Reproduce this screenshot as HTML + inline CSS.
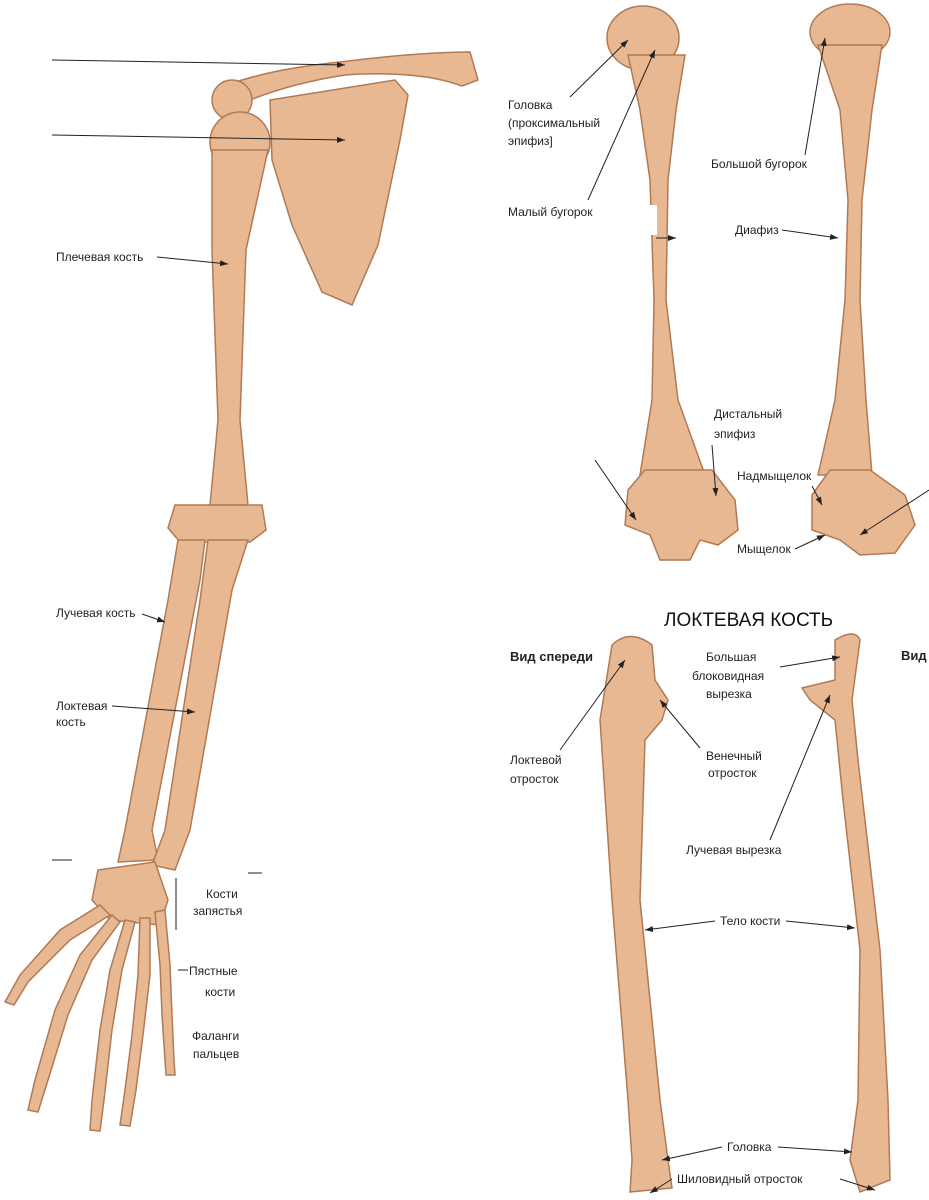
<!DOCTYPE html>
<html><head><meta charset="utf-8"><style>
html,body{margin:0;padding:0;background:#fff;}
svg{display:block;}
text{font-family:"Liberation Sans","DejaVu Sans",sans-serif;font-size:12px;fill:#222;}
.b{fill:#e8b893;stroke:#b07a55;stroke-width:1.5;}
.l{stroke:#222;stroke-width:1;fill:none;}
</style></head><body>
<svg width="929" height="1200" viewBox="0 0 929 1200" xmlns="http://www.w3.org/2000/svg">
<defs><marker id="a" markerWidth="8" markerHeight="6" refX="8" refY="3" orient="auto"><path d="M0,0 L8,3 L0,6 z" fill="#222"/></marker></defs>

<!-- LEFT ARM -->
<path class="b" d="M270,100 L395,80 L408,95 L400,140 L378,245 L352,305 L322,292 L292,225 L272,160 Z"/>
<path class="b" d="M215,90 Q260,70 340,62 Q420,52 470,52 L478,80 L462,86 Q420,70 345,75 Q280,85 232,108 Z"/>
<circle class="b" cx="232" cy="100" r="20"/>
<circle class="b" cx="240" cy="142" r="30"/>
<path class="b" d="M212,150 L268,150 L246,250 L240,420 L248,505 L210,505 L218,420 L212,250 Z"/>
<path class="b" d="M175,505 L262,505 L266,530 L250,542 L180,542 L168,528 Z"/>
<path class="b" d="M178,540 L205,540 L200,580 L152,830 L158,860 L118,862 L125,830 L168,600 Z"/>
<path class="b" d="M208,540 L248,540 L232,590 L190,830 L175,870 L152,865 L165,830 L200,600 Z"/>
<path class="b" d="M98,870 L155,862 L168,900 L160,925 L110,920 L92,900 Z"/>
<g class="b">
<path d="M100,905 L60,930 L20,975 L5,1002 L14,1005 L28,982 L70,940 L110,915 Z"/>
<path d="M112,915 L80,955 L55,1010 L35,1080 L28,1110 L38,1112 L48,1080 L68,1015 L92,960 L120,922 Z"/>
<path d="M125,920 L110,970 L100,1030 L92,1100 L90,1130 L100,1131 L104,1100 L112,1030 L122,970 L135,922 Z"/>
<path d="M140,918 L138,975 L132,1035 L125,1090 L120,1125 L130,1126 L136,1090 L143,1035 L150,975 L150,918 Z"/>
<path d="M155,912 L160,965 L162,1015 L165,1060 L166,1075 L175,1075 L174,1060 L172,1015 L170,965 L165,910 Z"/>
</g>
<line class="l" x1="52" y1="60" x2="345" y2="65" marker-end="url(#a)"/>
<line class="l" x1="52" y1="135" x2="345" y2="140" marker-end="url(#a)"/>
<text x="56" y="261">Плечевая кость</text><line class="l" x1="157" y1="257" x2="228" y2="264" marker-end="url(#a)"/>
<text x="56" y="617">Лучевая кость</text><line class="l" x1="142" y1="614" x2="165" y2="622" marker-end="url(#a)"/>
<text x="56" y="710">Локтевая</text><text x="56" y="726">кость</text><line class="l" x1="112" y1="706" x2="195" y2="712" marker-end="url(#a)"/>
<line class="l" x1="52" y1="860" x2="72" y2="860"/><line class="l" x1="248" y1="873" x2="262" y2="873"/>
<line class="l" x1="176" y1="878" x2="176" y2="930"/>
<text x="206" y="898">Кости</text><text x="193" y="915">запястья</text>
<line class="l" x1="178" y1="970" x2="188" y2="970"/>
<text x="189" y="975">Пястные</text><text x="205" y="996">кости</text>
<text x="192" y="1040">Фаланги</text><text x="193" y="1058">пальцев</text>

<!-- HUMERUS FRONT -->
<ellipse class="b" cx="643" cy="38" rx="36" ry="32"/>
<path class="b" d="M628,55 L685,55 L676,110 L668,180 L666,300 L678,400 L705,475 L640,475 L652,400 L654,300 L650,180 L640,110 Z"/>
<path class="b" d="M628,490 L645,470 L712,470 L735,500 L738,530 L718,545 L700,540 L690,560 L660,560 L650,535 L625,525 Z"/>
<rect x="645" y="205" width="12" height="30" fill="#fff"/>
<!-- HUMERUS BACK -->
<ellipse class="b" cx="850" cy="32" rx="40" ry="28"/>
<path class="b" d="M818,45 L882,45 L872,110 L862,200 L860,300 L866,400 L872,475 L818,475 L835,400 L845,300 L848,200 L840,110 Z"/>
<path class="b" d="M812,495 L830,470 L870,470 L905,495 L915,525 L895,553 L860,555 L840,540 L812,530 Z"/>
<text x="508" y="109">Головка</text><text x="508" y="127">(проксимальный</text><text x="508" y="145">эпифиз]</text>
<line class="l" x1="570" y1="97" x2="628" y2="40" marker-end="url(#a)"/>
<text x="508" y="216">Малый бугорок</text><line class="l" x1="588" y1="200" x2="655" y2="50" marker-end="url(#a)"/>
<line class="l" x1="656" y1="238" x2="676" y2="238" marker-end="url(#a)"/>
<text x="711" y="168">Большой бугорок</text><line class="l" x1="805" y1="155" x2="825" y2="38" marker-end="url(#a)"/>
<text x="735" y="234">Диафиз</text><line class="l" x1="782" y1="230" x2="838" y2="238" marker-end="url(#a)"/>
<text x="714" y="418">Дистальный</text><text x="714" y="438">эпифиз</text><line class="l" x1="712" y1="445" x2="716" y2="496" marker-end="url(#a)"/>
<line class="l" x1="595" y1="460" x2="636" y2="520" marker-end="url(#a)"/>
<text x="737" y="480">Надмыщелок</text><line class="l" x1="812" y1="486" x2="822" y2="505" marker-end="url(#a)"/>
<text x="737" y="553">Мыщелок</text><line class="l" x1="795" y1="549" x2="825" y2="535" marker-end="url(#a)"/>
<line class="l" x1="929" y1="490" x2="860" y2="535" marker-end="url(#a)"/>

<!-- ULNA -->
<text x="664" y="626" style="font-size:19px;fill:#111">ЛОКТЕВАЯ КОСТЬ</text>
<text x="510" y="661" style="font-weight:bold;font-size:13px">Вид спереди</text>
<text x="901" y="660" style="font-weight:bold;font-size:13px">Вид</text>
<path class="b" d="M612,645 Q630,628 652,645 L655,680 L668,700 L662,720 L645,740 L640,900 L660,1100 L668,1160 L672,1188 L630,1192 L632,1160 L628,1100 L612,900 L600,720 Z"/>
<path class="b" d="M835,640 Q855,628 860,640 L852,700 L858,760 L880,950 L888,1100 L890,1180 L860,1192 L850,1160 L858,1100 L860,950 L843,800 L835,720 L810,700 L802,688 L835,680 Z"/>
<text x="706" y="661">Большая</text><text x="692" y="680">блоковидная</text><text x="706" y="698">вырезка</text>
<line class="l" x1="780" y1="667" x2="840" y2="657" marker-end="url(#a)"/>
<text x="510" y="764">Локтевой</text><text x="510" y="783">отросток</text><line class="l" x1="560" y1="750" x2="625" y2="660" marker-end="url(#a)"/>
<text x="706" y="760">Венечный</text><text x="708" y="777">отросток</text><line class="l" x1="700" y1="748" x2="660" y2="700" marker-end="url(#a)"/>
<text x="686" y="854">Лучевая вырезка</text><line class="l" x1="770" y1="840" x2="830" y2="695" marker-end="url(#a)"/>
<text x="720" y="925">Тело кости</text>
<line class="l" x1="715" y1="921" x2="645" y2="930" marker-end="url(#a)"/>
<line class="l" x1="786" y1="921" x2="855" y2="928" marker-end="url(#a)"/>
<text x="727" y="1151">Головка</text>
<line class="l" x1="722" y1="1147" x2="662" y2="1160" marker-end="url(#a)"/>
<line class="l" x1="778" y1="1147" x2="852" y2="1152" marker-end="url(#a)"/>
<text x="677" y="1183">Шиловидный отросток</text>
<line class="l" x1="672" y1="1179" x2="650" y2="1193" marker-end="url(#a)"/>
<line class="l" x1="840" y1="1179" x2="875" y2="1190" marker-end="url(#a)"/>
</svg>
</body></html>
